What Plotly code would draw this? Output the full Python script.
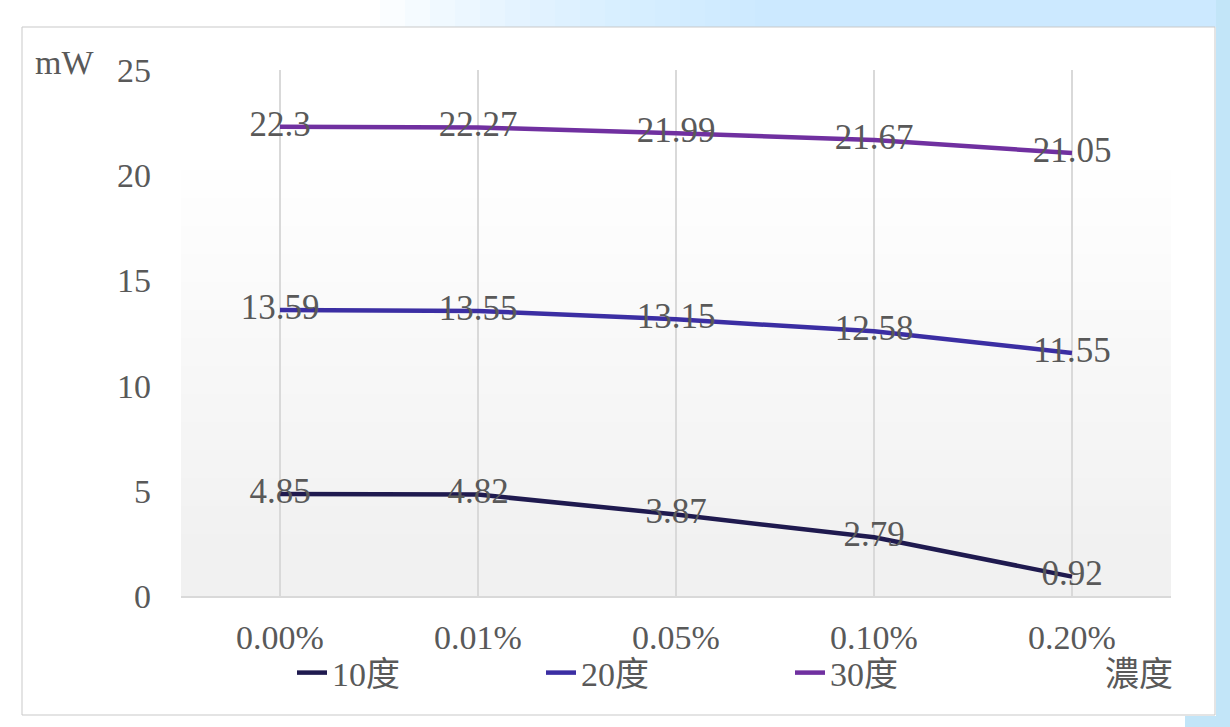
import plotly.graph_objects as go

# Concentration categories and measured power (mW) for each temperature
concentrations = ["0.00%", "0.01%", "0.05%", "0.10%", "0.20%"]
power_10 = [4.85, 4.82, 3.87, 2.79, 0.92]
power_20 = [13.59, 13.55, 13.15, 12.58, 11.55]
power_30 = [22.3, 22.27, 21.99, 21.67, 21.05]
series_names = ["10度", "20度", "30度"]
series_colors = ["#1f1a4f", "#3b2ea3", "#7030a0"]
y_ticks = [0, 5, 10, 15, 20, 25]

W, H = 1230, 727
ML, MR, MT, MB = 181, 59, 70, 131
PW, PH = W - ML - MR, H - MT - MB

FONT = "Liberation Serif, Times New Roman, Noto Sans CJK TC, serif"
TXT = "#595959"


def px_x(v):
    return (v - ML) / PW


def px_y(v):
    return 1 - (v - MT) / PH


fig = go.Figure()
for name, vals, col in zip(series_names, [power_10, power_20, power_30], series_colors):
    fig.add_trace(go.Scatter(
        x=concentrations, y=vals, name=name, mode="lines+text",
        line=dict(color=col, width=4.5),
        text=[f"{v:g}" for v in vals], textposition="middle center",
        textfont=dict(family=FONT, size=35, color=TXT),
        cliponaxis=False, hoverinfo="skip",
    ))

shapes = []
# surrounding page backdrop: pale blue strip along the top, fading in from the left
for i in range(16):
    x0 = 380 + i * 25
    shapes.append(dict(type="rect", xref="paper", yref="paper",
                       x0=px_x(x0), x1=px_x(W), y0=px_y(27), y1=px_y(0),
                       fillcolor="rgba(190,228,250,0.08)", line=dict(width=0), layer="below"))
shapes.append(dict(type="rect", xref="paper", yref="paper",
                   x0=px_x(1216), x1=px_x(W), y0=px_y(H), y1=px_y(0),
                   fillcolor="#c2e5f8", line=dict(width=0), layer="below"))
shapes.append(dict(type="rect", xref="paper", yref="paper",
                   x0=px_x(1185), x1=px_x(W), y0=px_y(H), y1=px_y(716),
                   fillcolor="#c2e5f8", line=dict(width=0), layer="below"))
# chart frame
shapes.append(dict(type="rect", xref="paper", yref="paper",
                   x0=px_x(22), x1=px_x(1215), y0=px_y(715), y1=px_y(27),
                   fillcolor="white", line=dict(color="#c9c9c9", width=1), layer="below"))
# faint shading that deepens toward the bottom of the plot area
for i in range(14):
    y_top = 170 + i * 28
    shapes.append(dict(type="rect", xref="paper", yref="paper",
                       x0=px_x(181), x1=px_x(1171), y0=0, y1=px_y(y_top),
                       fillcolor="rgba(0,0,0,0.003)", line=dict(width=0), layer="below"))

fig.update_layout(
    width=W, height=H,
    margin=dict(l=ML, r=MR, t=MT, b=MB),
    paper_bgcolor="white", plot_bgcolor="rgba(0,0,0,0)",
    font=dict(family=FONT, color=TXT, size=34),
    showlegend=True,
    legend=dict(orientation="h", x=px_x(292), xanchor="left", y=px_y(644), yanchor="top",
                entrywidth=204, entrywidthmode="pixels",
                font=dict(family=FONT, size=34, color=TXT),
                bgcolor="rgba(0,0,0,0)", itemclick=False),
    xaxis=dict(type="category", showgrid=True, gridcolor="#d9d9d9", gridwidth=1.5,
               showline=True, linecolor="#d9d9d9", linewidth=1.5, zeroline=False,
               ticks="", tickfont=dict(family=FONT, size=34, color=TXT),
               ticklabelstandoff=10, range=[-0.5, 4.5]),
    yaxis=dict(range=[0, 25], tickvals=y_ticks, showgrid=False, zeroline=False,
               showline=False, ticks="", tickfont=dict(family=FONT, size=34, color=TXT),
               ticklabelstandoff=29),
    shapes=shapes,
    annotations=[
        dict(text="mW", xref="paper", yref="paper", x=px_x(64), y=px_y(62),
             xanchor="center", yanchor="middle", showarrow=False,
             font=dict(family=FONT, size=34, color=TXT)),
        dict(text="濃度", xref="paper", yref="paper", x=px_x(1139), y=px_y(674),
             xanchor="center", yanchor="middle", showarrow=False,
             font=dict(family=FONT, size=34, color=TXT)),
    ],
)

fig.write_html("out.html")
